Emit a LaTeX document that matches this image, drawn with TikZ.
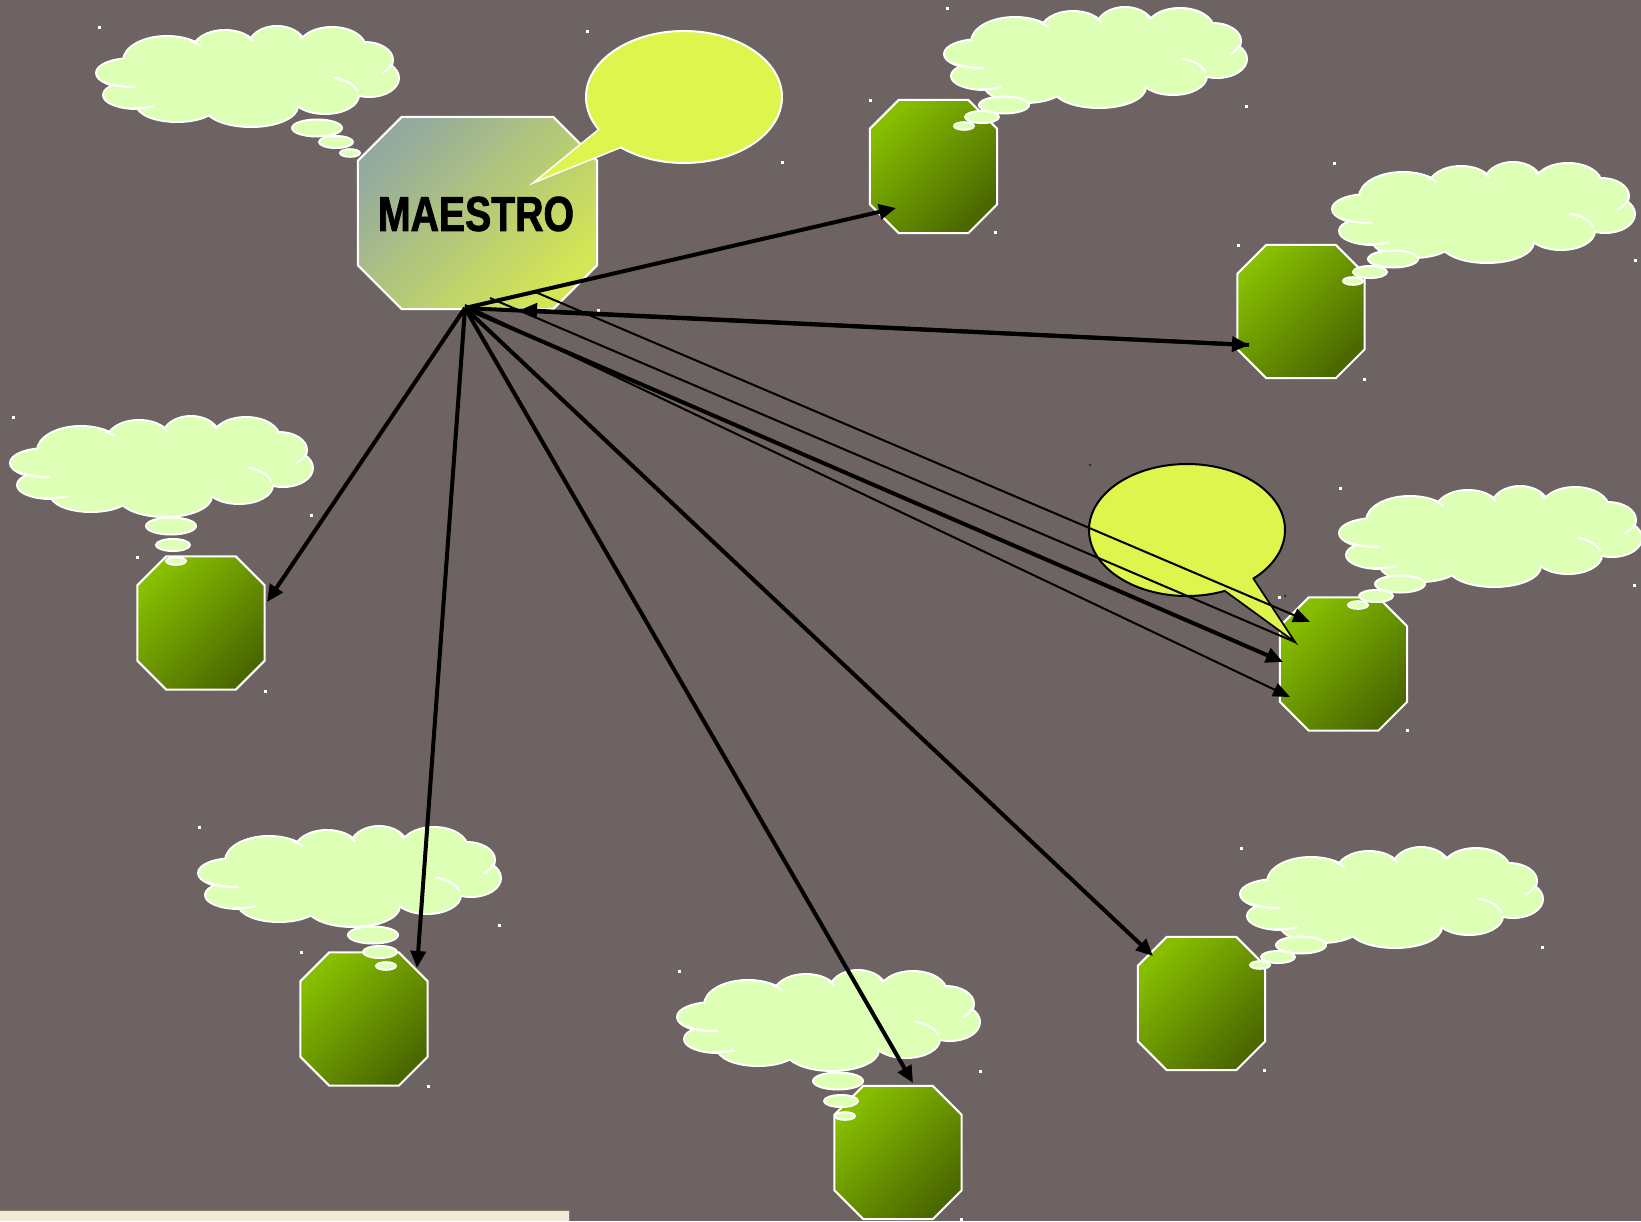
\documentclass[tikz,border=0pt]{standalone}
\usepackage{fontspec}
\setmainfont{Liberation Sans}
\newfontfamily\mastfont[FakeStretch=0.8, BoldFeatures={FakeBold=1.6}]{Liberation Sans}
\usetikzlibrary{arrows.meta,calc}

\definecolor{bg}{RGB}{110,99,99}
\definecolor{cloudfill}{RGB}{221,255,182}
\definecolor{talkfill}{RGB}{222,245,77}
\definecolor{greenlight}{RGB}{135,190,0}
\definecolor{greendark}{RGB}{74,104,0}
\definecolor{mastlight}{RGB}{148,170,158}
\definecolor{mastdark}{RGB}{212,230,84}
\definecolor{cream}{RGB}{241,233,218}
\definecolor{creamedge}{RGB}{140,123,87}

% chamfered outline drawn around a named box: #1 box, #2 corner cut, #3 style
\newcommand\octagon[3]{%
  \path[#3] ($(#1.north west)+(#2,0)$) -- ($(#1.north east)+(-#2,0)$)
    -- ($(#1.north east)+(0,#2)$) -- ($(#1.south east)+(0,-#2)$)
    -- ($(#1.south east)+(-#2,0)$) -- ($(#1.south west)+(#2,0)$)
    -- ($(#1.south west)+(0,-#2)$) -- ($(#1.north west)+(0,#2)$) -- cycle;}

\tikzset{
  octbox/.style={rectangle, inner sep=0pt, minimum width=127pt, minimum height=133pt},
  greenoct/.style={draw=white, line width=2pt, top color=greenlight, bottom color=greendark, shading angle=45},
  mastoct/.style={draw=white, line width=2pt, top color=mastlight, bottom color=mastdark, shading angle=45},
  cloudedge/.style={draw=white, line width=4pt},
  cloudbody/.style={fill=cloudfill},
  cloudarc/.style={draw=white, line width=2pt},
  arr/.style={line width=4pt, -{Triangle[length=17pt,width=15pt]}},
  thinarr/.style={line width=2pt, -{Triangle[length=17pt,width=14pt]}},
  thinline/.style={line width=2pt},
  cloud/.pic={
    \foreach \cx/\cy/\rx/\ry in {36/46/36/14, 40/68/33/13, 70/34/43/24, 128/24/32/20,
        180/20/28/20, 235/21/33/20, 268/33/27/17, 272/51/29/18, 228/68/33/18,
        154/79/46/20, 80/77/40/17}
      {\path[cloudedge] (\cx,\cy) ellipse [x radius=\rx, y radius=\ry];}
    \foreach \cx/\cy/\rx/\ry in {36/46/36/14, 40/68/33/13, 70/34/43/24, 128/24/32/20,
        180/20/28/20, 235/21/33/20, 268/33/27/17, 272/51/29/18, 228/68/33/18,
        154/79/46/20, 80/77/40/17, 150/48/115/32}
      {\path[cloudbody] (\cx,\cy) ellipse [x radius=\rx, y radius=\ry];}
    % inner folds of the cloud
    \foreach \cx/\cy/\rx/\ry/\a/\b in {228/68/33/18/-74/-10, 268/33/27/17/15/52,
        36/46/36/14/85/140, 40/68/33/13/60/100, 70/34/43/24/-55/-38,
        128/24/32/20/-45/-28, 180/20/28/20/-41/-26}
      {\path[cloudarc] ({\cx+\rx*cos(\a)},{\cy+\ry*sin(\a)})
         arc[start angle=\a, end angle=\b, x radius=\rx, y radius=\ry];}
  }
}

% thought dots: three ellipses of decreasing size
\newcommand\thoughtdots[3]{%
  \path[cloudedge, line width=2pt, fill=cloudfill] #1 ellipse [x radius=25, y radius=8.5];
  \path[cloudedge, line width=2pt, fill=cloudfill] #2 ellipse [x radius=17, y radius=6];
  \path[cloudedge, line width=2pt, fill=cloudfill] #3 ellipse [x radius=10, y radius=3.8];}

\begin{document}
\begin{tikzpicture}[x=1pt, y=-1pt]
\useasboundingbox (0,0) rectangle (1641,1221);
\fill[bg] (0,0) rectangle (1641,1221);

% tab strip at the bottom edge
\fill[cream] (0,1210) rectangle (570,1221);
\draw[creamedge, line width=1.5pt] (0,1210.5) -- (569.5,1210.5) -- (569.5,1221);

% scattered specks
\foreach \p in {(99,27),(587,31),(947,8),(1246,106),(870,100),(782,162),(995,232),
    (1334,163),(1238,245),(1635,260),(1364,379),(1340,488),(13,417),(311,515),
    (137,557),(265,691),(1279,597),(1407,730),(199,827),(499,925),(301,952),
    (428,1086),(1241,848),(1542,947),(1264,1070),(679,971),(980,1071),(961,1219),
    (598,310),(398,125),(1634,585)}
  {\fill[white] \p +(-1.5,-1.5) rectangle +(1.5,1.5);}
\fill[black!80] (1090,465) circle (1.5);
\fill[black!80] (1285,596) circle (1.5);

% boxes
\node[octbox, minimum width=239pt, minimum height=192pt] (M) at (477.5,213) {};
\node[octbox] (N1) at (933.5,166.5) {};
\node[octbox] (N2) at (1301,311.5) {};
\node[octbox] (N3) at (1343.5,664) {};
\node[octbox] (N4) at (201,623) {};
\node[octbox] (N5) at (364,1019) {};
\node[octbox] (N6) at (898,1152.5) {};
\node[octbox] (N7) at (1201.5,1003.5) {};

\octagon{M}{44}{mastoct}
\foreach \n in {N1,N2,N3,N4,N5,N6,N7} {\octagon{\n}{29}{greenoct}}

% thought clouds
\pic at (97,27) {cloud};
\thoughtdots{(317,128)}{(336,142)}{(350,153)}
\pic at (945,8) {cloud};
\thoughtdots{(1004,105)}{(982,117)}{(964,126)}
\pic at (1333,163) {cloud};
\thoughtdots{(1393,259)}{(1370,272)}{(1353,281)}
\pic at (11,417) {cloud};
\thoughtdots{(171,526)}{(173,545)}{(176,561)}
\pic at (1340,487) {cloud};
\thoughtdots{(1400,584)}{(1376,596)}{(1358,605)}
\pic at (199,827) {cloud};
\thoughtdots{(373,935)}{(380,952)}{(386,966)}
\pic at (678,971) {cloud};
\thoughtdots{(838,1081)}{(841,1101)}{(845,1116)}
\pic at (1241,848) {cloud};
\thoughtdots{(1301,945)}{(1278,957)}{(1260,965)}

% speech bubble beside MAESTRO
\path[draw=white, line width=2pt, fill=talkfill] (684,97) ellipse [x radius=98, y radius=66];
\fill[talkfill] (533,183) -- (598,130) -- (640,118) -- (622,147) -- cycle;
\draw[white, line width=1.5pt] (598,130) -- (533,183) -- (622,147);

\node[font=\mastfont\fontsize{49pt}{58pt}\selectfont\bfseries] (mlabel) at (476,214)
  {MAESTRO};

% speech bubble on the right
\path[draw=black, line width=2pt, fill=talkfill] (1187,530) ellipse [x radius=98, y radius=66];
\fill[talkfill] (1295,642) -- (1253,578) -- (1240,560) -- (1225,591) -- cycle;
\draw[black, line width=1.7pt] (1253,578) -- (1295,642) -- (1225,591);

% connectors
\coordinate (hub) at (465,308);
\coordinate (hubR) at (520,310);
\coordinate (hubT) at (533,291);
\coordinate (hubU) at (490,298);
\coordinate (hubL) at (465,305);
\coordinate (N1in) at (896,208);
\coordinate (N2in) at (1249,345);
\coordinate (N3a) at (1310,622);
\coordinate (N3b) at (1283,662);
\coordinate (N3c) at (1290,697);
\coordinate (N4in) at (267,602);
\coordinate (N5in) at (417,968);
\coordinate (N6in) at (913,1083);
\coordinate (N7in) at (1153,956);
\coordinate (tailtip) at (1295,642);

\draw[arr] (hub) -- (N1in);
\draw[arr] (hub) -- (N2in);
\draw[arr] (N2in) -- (hubR);
\draw[arr] (hub) -- (N4in);
\draw[arr] (hub) -- (N5in);
\draw[arr] (hub) -- (N6in);
\draw[arr] (hub) -- (N7in);
\draw[arr] (hub) -- (N3b);
\draw[thinarr] (hubT) -- (N3a);
\draw[thinarr] (hubL) -- (N3c);
\draw[thinline] (hubU) -- (tailtip);
\end{tikzpicture}
\end{document}
